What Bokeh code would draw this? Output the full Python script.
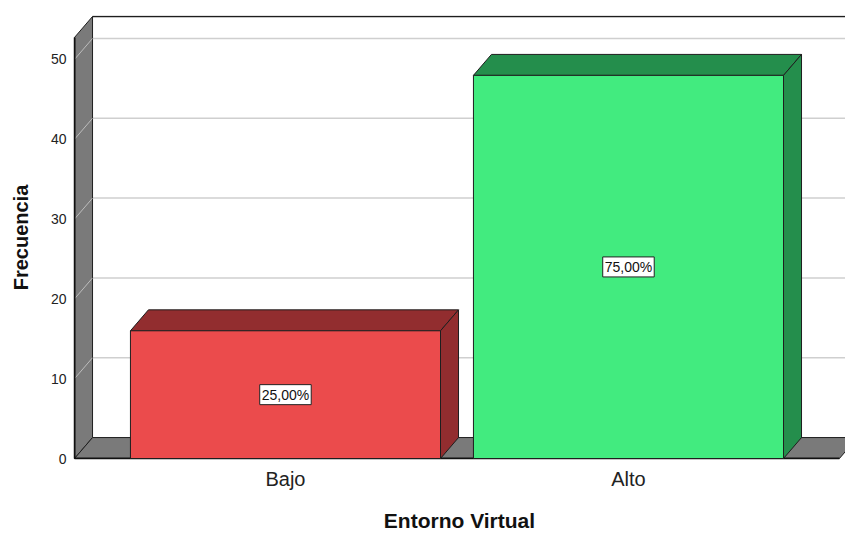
from bokeh.plotting import figure
from bokeh.models import Range1d, FixedTicker
from bokeh.core.properties import value
from bokeh.embed import file_html
from bokeh.resources import INLINE

# Frequencies per category of "Entorno Virtual"
categories = ["Bajo", "Alto"]
counts = [16, 48]
percent_labels = ["25,00%", "75,00%"]
y_ticks = [0, 10, 20, 30, 40, 50]

front_colors = ["#EB4B4C", "#42EB7F"]
shade_colors = ["#922D2F", "#248E4C"]

# 3D box geometry (data units)
positions = [i + 1 for i in range(len(categories))]
half_w = 0.452          # half of a bar's front width
pad = 0.615             # space between the outer bars and the box walls
dx, dy = 0.0525, 2.625  # depth offset of the back plane
wall_top = 52.75        # top of the box on the front plane

x_lo = positions[0] - pad
x_hi = positions[-1] + pad

p = figure(width=845, height=534, output_backend="svg", toolbar_location=None,
           x_range=Range1d(x_lo - 0.003, x_lo - 0.003 + 772 / 343),
           y_range=Range1d(-0.125, 55.5),
           min_border_left=73, min_border_right=0, min_border_top=15,
           min_border_bottom=74)
p.outline_line_color = None
p.grid.visible = False
p.background_fill_color = "white"

line_col = "#1E1E1E"
grid_col = "#CFCFCF"
wall_col = "#7A7A7A"

# back-plane gridlines
for v in y_ticks[1:]:
    p.line([x_lo + dx, x_hi + 1.0], [v + dy, v + dy], line_color=grid_col, line_width=1.5)

# top edge of the back plane
p.line([x_lo + dx, x_hi + 1.0], [wall_top + dy, wall_top + dy], line_color=line_col, line_width=1.5)

# left wall with the gridline diagonals
p.patch([x_lo, x_lo + dx, x_lo + dx, x_lo], [0, dy, wall_top + dy, wall_top],
        fill_color=wall_col, line_color=line_col, line_width=1)
for v in y_ticks[1:]:
    p.line([x_lo, x_lo + dx], [v, v + dy], line_color="#BDBDBD", line_width=1)

# floor
p.patch([x_lo, x_hi, x_hi + dx, x_lo + dx], [0, 0, dy, dy],
        fill_color=wall_col, line_color=line_col, line_width=1)
p.line([x_lo, x_hi], [0, 0], line_color="#111111", line_width=2)
p.line([x_lo, x_lo], [0, wall_top], line_color="#111111", line_width=2)

# bars: top face, side face, front face
for xc, c, fc, sc in zip(positions, counts, front_colors, shade_colors):
    x0, x1 = xc - half_w, xc + half_w
    p.patch([x0, x1, x1 + dx, x0 + dx], [c, c, c + dy, c + dy],
            fill_color=sc, line_color=line_col, line_width=1)
    p.patch([x1, x1 + dx, x1 + dx, x1], [0, dy, c + dy, c],
            fill_color=sc, line_color=line_col, line_width=1)
    p.quad(left=x0, right=x1, bottom=0, top=c,
           fill_color=fc, line_color=line_col, line_width=1)

# percentage labels at the middle of each bar
p.text(x=positions, y=[c / 2 for c in counts], text=percent_labels,
       text_align="center", text_baseline="middle",
       text_font=value("Liberation Sans"), text_font_size="14px", text_color="#111111",
       background_fill_color="white", border_line_color="#222222", border_line_width=1,
       padding=2)

# axes
p.yaxis.ticker = FixedTicker(ticks=y_ticks)
p.yaxis.axis_line_color = None
p.yaxis.major_tick_line_color = None
p.yaxis.minor_tick_line_color = None
p.yaxis.major_label_standoff = 1
p.yaxis.major_label_text_font = "Liberation Sans"
p.yaxis.major_label_text_font_size = "14px"
p.yaxis.major_label_text_color = "#222222"
p.yaxis.axis_label = "Frecuencia"
p.yaxis.axis_label_text_font = "Liberation Sans"
p.yaxis.axis_label_text_font_size = "20px"
p.yaxis.axis_label_text_font_style = "bold"
p.yaxis.axis_label_text_color = "#111111"
p.yaxis.axis_label_standoff = 16

p.xaxis.ticker = FixedTicker(ticks=positions)
p.xaxis.major_label_overrides = {pos: name for pos, name in zip(positions, categories)}
p.xaxis.axis_line_color = None
p.xaxis.major_tick_line_color = None
p.xaxis.minor_tick_line_color = None
p.xaxis.major_label_standoff = 2
p.xaxis.major_label_text_font = "Liberation Sans"
p.xaxis.major_label_text_font_size = "20px"
p.xaxis.major_label_text_color = "#222222"
p.xaxis.axis_label = "Entorno Virtual"
p.xaxis.axis_label_text_font = "Liberation Sans"
p.xaxis.axis_label_text_font_size = "21px"
p.xaxis.axis_label_text_font_style = "bold"
p.xaxis.axis_label_text_color = "#111111"
p.xaxis.axis_label_standoff = 16

open("out.html", "w").write(file_html(p, INLINE))
